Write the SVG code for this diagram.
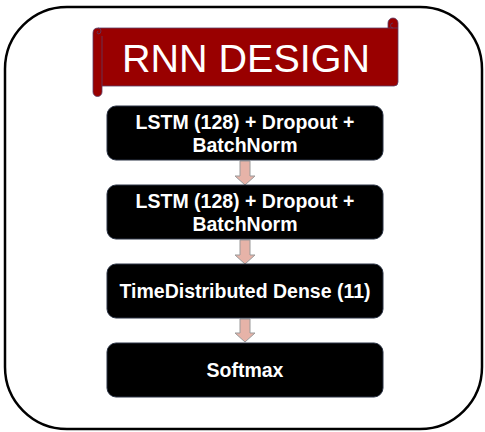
<svg xmlns="http://www.w3.org/2000/svg" width="485" height="432" viewBox="0 0 485 432">
<style>
.box{fill:#000;stroke:#2a3344;stroke-width:1}
.lbl{font-family:"Liberation Sans",Arial,sans-serif;font-weight:bold;font-size:19.5px;fill:#fff;text-anchor:middle}
.arr{fill:#e6b3a8;stroke:#9a9a9a;stroke-width:1}
</style>
<rect x="0" y="0" width="485" height="432" fill="#fff"/>
<rect id="frame" x="5" y="7" width="477" height="422" rx="62" ry="62" fill="none" stroke="#000" stroke-width="2.5"/>
<g id="banner">
<path d="M93,33 Q93,28 98,28 L388,28 L388,23 a5,5 0 0 1 10,0 L398,82 a4,4 0 0 1 -4,4 L102,86 L102,92 a4.5,4.5 0 0 1 -9,0 Z" fill="#990000" stroke="#5b3c66" stroke-width="0.8"/>
<path d="M102,86 L102,36 M98,28 a3,3 0 1 1 0,6 a2,2 0 0 1 0,-3" fill="none" stroke="#5b3c66" stroke-width="0.8"/>
<path d="M388,28 L398,28 M393,28 a2.5,2.5 0 0 1 0,-5" fill="none" stroke="#5b3c66" stroke-width="0.8"/>
<text x="246" y="72" font-family="'Liberation Sans',Arial,sans-serif" font-size="39.5" fill="#fff" text-anchor="middle">RNN DESIGN</text>
</g>
<g id="connectors">
<path class="arr" d="M240,161 L250,161 L250,176 L255,176 L245,185 L235,176 L240,176 Z"/>
<path class="arr" d="M240,240 L250,240 L250,255 L255,255 L245,264 L235,255 L240,255 Z"/>
<path class="arr" d="M240,319 L250,319 L250,333 L255,333 L245,342 L235,333 L240,333 Z"/>
</g>
<g id="n1">
<rect class="box" x="107" y="106" width="276" height="54" rx="9"/>
<text class="lbl" x="245" y="129">LSTM (128) + Dropout +</text>
<text class="lbl" x="245" y="152">BatchNorm</text>
</g>
<g id="n2">
<rect class="box" x="107" y="185" width="276" height="54" rx="9"/>
<text class="lbl" x="245" y="208">LSTM (128) + Dropout +</text>
<text class="lbl" x="245" y="231">BatchNorm</text>
</g>
<g id="n3">
<rect class="box" x="107" y="264" width="276" height="54" rx="9"/>
<text class="lbl" x="245" y="298">TimeDistributed Dense (11)</text>
</g>
<g id="n4">
<rect class="box" x="107" y="343" width="276" height="54" rx="9"/>
<text class="lbl" x="245" y="377">Softmax</text>
</g>
</svg>
